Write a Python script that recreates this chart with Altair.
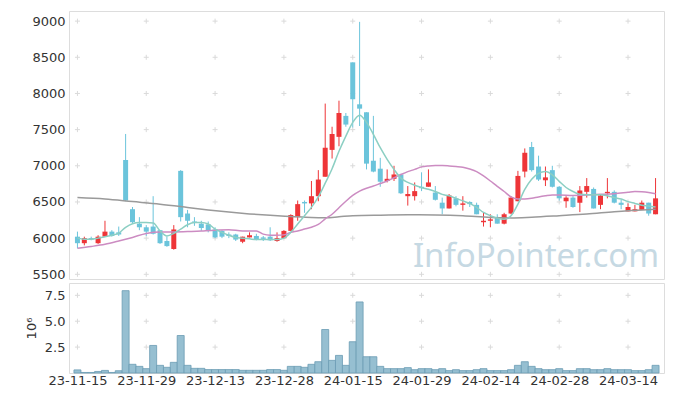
import altair as alt
import pandas as pd

# ---------------- data ----------------
tick_labels = ["23-11-15", "23-11-29", "23-12-13", "23-12-28", "24-01-15",
               "24-01-29", "24-02-14", "24-02-28", "24-03-14"]
tick_idx = [0, 10, 20, 30, 40, 50, 60, 70, 80]

opens = [6020, 5930, 6000, 5930, 6020, 6090, 6080, 7080, 6400, 6200,
         6150, 6160, 6110, 5960, 5850, 6930, 6340, 6230, 6200, 6190,
         6120, 6100, 6050, 6050, 5950, 6010, 6030, 6010, 6020, 5960,
         6000, 6100, 6290, 6500, 6480, 6580, 6850, 7220, 7400, 7690,
         8430, 7850, 7740, 7070, 6960, 6790, 6820, 6880, 6580, 6580,
         6710, 6710, 6630, 6490, 6410, 6550, 6460, 6500, 6460, 6220,
         6240, 6280, 6200, 6340, 6510, 6920, 7260, 6990, 6800, 6940,
         6710, 6510, 6560, 6490, 6640, 6680, 6460, 6620, 6640, 6490,
         6370, 6370, 6390, 6490, 6330]
highs = [6090, 6020, 6020, 6040, 6240, 6110, 6160, 7440, 6430, 6290,
         6180, 6580, 6110, 6020, 6180, 6940, 6390, 6290, 6240, 6230,
         6150, 6110, 6080, 6060, 6020, 6080, 6060, 6030, 6150, 6080,
         6110, 6330, 6520, 6520, 6790, 6940, 7860, 7540, 7900, 7730,
         8430, 8990, 7740, 7690, 7110, 6950, 7000, 6890, 6720, 6770,
         6910, 6950, 6720, 6560, 6610, 6580, 6580, 6510, 6490, 6350,
         6330, 6330, 6350, 6580, 6930, 7240, 7330, 7140, 6990, 7000,
         6720, 6580, 6580, 6720, 6830, 6700, 6610, 6830, 6660, 6530,
         6480, 6460, 6520, 6490, 6830]
lows = [5860, 5900, 5970, 5920, 6020, 6020, 6030, 6510, 6210, 6110,
        6030, 6050, 5920, 5880, 5840, 6230, 6150, 6170, 6100, 6080,
        6000, 6000, 6000, 5960, 5930, 6010, 5970, 5960, 5960, 5950,
        6000, 6100, 6240, 6350, 6400, 6510, 6850, 7100, 7270, 7540,
        7530, 7550, 6950, 6910, 6710, 6770, 6790, 6610, 6450, 6520,
        6650, 6710, 6520, 6330, 6410, 6440, 6380, 6430, 6330, 6160,
        6150, 6200, 6190, 6330, 6510, 6840, 6920, 6790, 6720, 6700,
        6520, 6420, 6420, 6360, 6560, 6410, 6400, 6550, 6480, 6400,
        6370, 6370, 6390, 6310, 6330]
closes = [5930, 6000, 5980, 6020, 6090, 6030, 6050, 6520, 6220, 6150,
          6090, 6060, 5930, 5890, 6120, 6290, 6240, 6220, 6140, 6100,
          6010, 6020, 6030, 5980, 6020, 6040, 5980, 5990, 5970, 6000,
          6100, 6320, 6470, 6480, 6580, 6810, 7250, 7440, 7730, 7570,
          7920, 7790, 7030, 6920, 6780, 6820, 6880, 6620, 6610, 6650,
          6690, 6770, 6530, 6410, 6590, 6460, 6480, 6470, 6330, 6240,
          6260, 6200, 6330, 6560, 6860, 7180, 6940, 6810, 6840, 6710,
          6550, 6560, 6430, 6660, 6720, 6410, 6590, 6640, 6490, 6460,
          6430, 6400, 6490, 6340, 6550]
# volume in units of 10^6 shares
volumes_m = [0.30, 0.05, 0.05, 0.15, 0.25, 0.05, 0.22, 7.95, 0.84, 0.64,
             0.42, 2.66, 0.74, 0.55, 1.03, 3.62, 0.74, 0.45, 0.45, 0.33,
             0.33, 0.33, 0.33, 0.33, 0.26, 0.26, 0.26, 0.26, 0.33, 0.33,
             0.26, 0.64, 0.64, 0.55, 0.84, 1.09, 4.20, 1.22, 1.70, 0.74,
             3.02, 6.86, 1.57, 1.57, 0.64, 0.42, 0.42, 0.42, 0.52, 0.32,
             0.42, 0.42, 0.32, 0.42, 0.23, 0.32, 0.23, 0.23, 0.32, 0.42,
             0.23, 0.23, 0.23, 0.32, 0.74, 1.09, 0.64, 0.42, 0.32, 0.32,
             0.42, 0.23, 0.23, 0.42, 0.42, 0.32, 0.32, 0.42, 0.32, 0.32,
             0.32, 0.23, 0.23, 0.32, 0.74]
# 5-day moving average (teal), read at every bar
ma5 = [6000, 5985, 5985, 6000, 6020, 6040, 6070, 6150, 6200, 6215,
       6215, 6210, 6100, 6030, 6065, 6125, 6185, 6215, 6215, 6195,
       6125, 6080, 6040, 6010, 6000, 5990, 5980, 5980, 5980, 5980,
       6000, 6080, 6195, 6310, 6425, 6570, 6760, 6960, 7200, 7410,
       7600, 7700, 7600, 7435, 7250, 7090, 6950, 6830, 6770, 6730,
       6700, 6675, 6645, 6605, 6585, 6550, 6515, 6480, 6425, 6355,
       6310, 6275, 6260, 6310, 6470, 6675, 6815, 6895, 6920, 6875,
       6785, 6700, 6645, 6605, 6600, 6600, 6600, 6585, 6560, 6540,
       6505, 6480, 6455, 6445, 6430]
# 20-day moving average (pink)
ma20_idx = [0, 2, 4, 6, 8, 10, 12, 14, 16, 18, 20, 22, 24, 26, 27, 28, 29,
            30, 31, 32, 33, 34, 35, 36, 37, 38, 39, 40, 41, 42, 43, 44, 45,
            46, 47, 48, 49, 50, 51, 52, 53, 54, 55, 56, 57, 58, 59, 60, 61,
            62, 63, 64, 65, 66, 67, 68, 69, 70, 72, 74, 76, 78, 80, 81, 82,
            83, 84]
ma20_val = [5860, 5885, 5915, 5960, 6010, 6065, 6085, 6085, 6090, 6100,
            6110, 6115, 6100, 6100, 6055, 6040, 6040, 6045, 6080, 6100,
            6125, 6150, 6190, 6265, 6330, 6420, 6510, 6590, 6650, 6690,
            6720, 6755, 6790, 6835, 6880, 6920, 6950, 6985, 6998, 7003,
            7003, 6998, 6990, 6980, 6955, 6920, 6860, 6790, 6715, 6645,
            6570, 6540, 6540, 6550, 6570, 6585, 6595, 6595, 6590, 6595,
            6605, 6615, 6635, 6645, 6640, 6630, 6615]
# long moving average (grey)
malong_idx = [0, 4, 8, 12, 16, 19, 22, 25, 28, 31, 34, 36, 38, 40, 44, 48,
              52, 56, 60, 63, 66, 70, 74, 78, 84]
malong_val = [6560, 6540, 6505, 6470, 6425, 6390, 6360, 6335, 6315, 6300,
              6285, 6282, 6295, 6310, 6318, 6322, 6320, 6310, 6285, 6280,
              6290, 6310, 6332, 6365, 6400]

price_ticks = [5500, 6000, 6500, 7000, 7500, 8000, 8500, 9000]
vol_ticks = [2.5, 5.0, 7.5]

# ---------------- styling ----------------
RED = "#ee3538"
BLUE = "#6bc4db"
TEAL = "#8ccfc3"
PINK = "#cc8cc2"
GREY = "#9a9a9a"
GRID = "#dadada"
FONT = "DejaVu Sans"
N = len(opens)

candles = pd.DataFrame({
    "i": list(range(N)), "open": opens, "high": highs, "low": lows, "close": closes,
    "dir": ["up" if c >= o else "down" for o, c in zip(opens, closes)],
})
vol_df = pd.DataFrame({"i": list(range(N)), "vol": volumes_m})
ma5_df = pd.DataFrame({"i": list(range(N)), "v": ma5})
ma20_df = pd.DataFrame({"i": ma20_idx, "v": ma20_val})
malong_df = pd.DataFrame({"i": malong_idx, "v": malong_val})
grid_p = pd.DataFrame([{"i": x, "v": y} for x in tick_idx for y in price_ticks])
grid_v = pd.DataFrame([{"i": x, "v": y} for x in tick_idx for y in vol_ticks])

xs = alt.Scale(domain=[-0.5, N - 0.5], nice=False, zero=False)
ys = alt.Scale(domain=[5435, 9140], nice=False, zero=False)
vs = alt.Scale(domain=[0, 8.69], nice=False, zero=False)

y_axis = alt.Axis(values=price_ticks, format="d", grid=False, ticks=False, domain=False,
                  labelPadding=4, title=None, labelFontSize=13, labelColor="#333",
                  labelFont=FONT)
label_js = "[" + ",".join("'" + s + "'" for s in tick_labels) + "]"
x_axis = alt.Axis(values=tick_idx, labelExpr=label_js + "[round(datum.value/10)]",
                  grid=False, ticks=False, domain=False, labelPadding=1, title=None,
                  labelFontSize=13, labelColor="#333", labelFont=FONT, labelFlush=False)
v_axis = alt.Axis(values=vol_ticks, format=".1f", grid=False, ticks=False, domain=False,
                  labelPadding=4, title="10⁶", titleFontSize=13, titleFontWeight="normal",
                  titleColor="#333", titleFont=FONT, titlePadding=6, labelFontSize=13,
                  labelColor="#333", labelFont=FONT)

color = alt.Color("dir:N", scale=alt.Scale(domain=["up", "down"], range=[RED, BLUE]),
                  legend=None)
cross = "M-1,0L1,0M0,-1L0,1"

grid_price = alt.Chart(grid_p).mark_point(shape=cross, size=25, filled=False,
                                          stroke=GRID, strokeWidth=1, opacity=1).encode(
    x=alt.X("i:Q", scale=xs, axis=None), y=alt.Y("v:Q", scale=ys, axis=y_axis))

watermark = alt.Chart(pd.DataFrame({"t": ["InfoPointer.com"]})).mark_text(
    font="Noto Sans", fontSize=33, color="#c6d9e3", align="center",
    baseline="alphabetic").encode(text="t:N", x=alt.value(467), y=alt.value(256))

wicks = alt.Chart(candles).mark_rule(strokeWidth=1).encode(
    x=alt.X("i:Q", scale=xs, axis=None),
    y=alt.Y("low:Q", scale=ys, axis=y_axis), y2="high:Q", color=color)
bodies = alt.Chart(candles).mark_bar(size=5).encode(
    x=alt.X("i:Q", scale=xs, axis=None),
    y=alt.Y("open:Q", scale=ys, axis=y_axis), y2="close:Q", color=color)


def ma_line(df, col):
    return alt.Chart(df).mark_line(color=col, strokeWidth=1.5, interpolate="monotone").encode(
        x=alt.X("i:Q", scale=xs, axis=None), y=alt.Y("v:Q", scale=ys, axis=y_axis))


price = alt.layer(grid_price, watermark, wicks, bodies, ma_line(malong_df, GREY),
                  ma_line(ma20_df, PINK), ma_line(ma5_df, TEAL)).properties(
    width=595, height=268)

grid_vol = alt.Chart(grid_v).mark_point(shape=cross, size=25, filled=False,
                                        stroke=GRID, strokeWidth=1, opacity=1).encode(
    x=alt.X("i:Q", scale=xs, axis=x_axis), y=alt.Y("v:Q", scale=vs, axis=v_axis))
vol_bars = alt.Chart(vol_df).mark_bar(size=7, fill="#96bfd1", stroke="#6b9cb4",
                                      strokeWidth=0.8).encode(
    x=alt.X("i:Q", scale=xs, axis=x_axis), y=alt.Y("vol:Q", scale=vs, axis=v_axis))
volume = alt.layer(grid_vol, vol_bars).properties(width=595, height=90)

chart = alt.vconcat(price, volume, spacing=0).properties(
    padding={"left": 16, "top": 2, "right": 0, "bottom": 0}
).configure_view(stroke="#e3e3e3", strokeWidth=1).configure(background="white")

chart.save("out.html", embed_options={"renderer": "svg", "actions": False})
